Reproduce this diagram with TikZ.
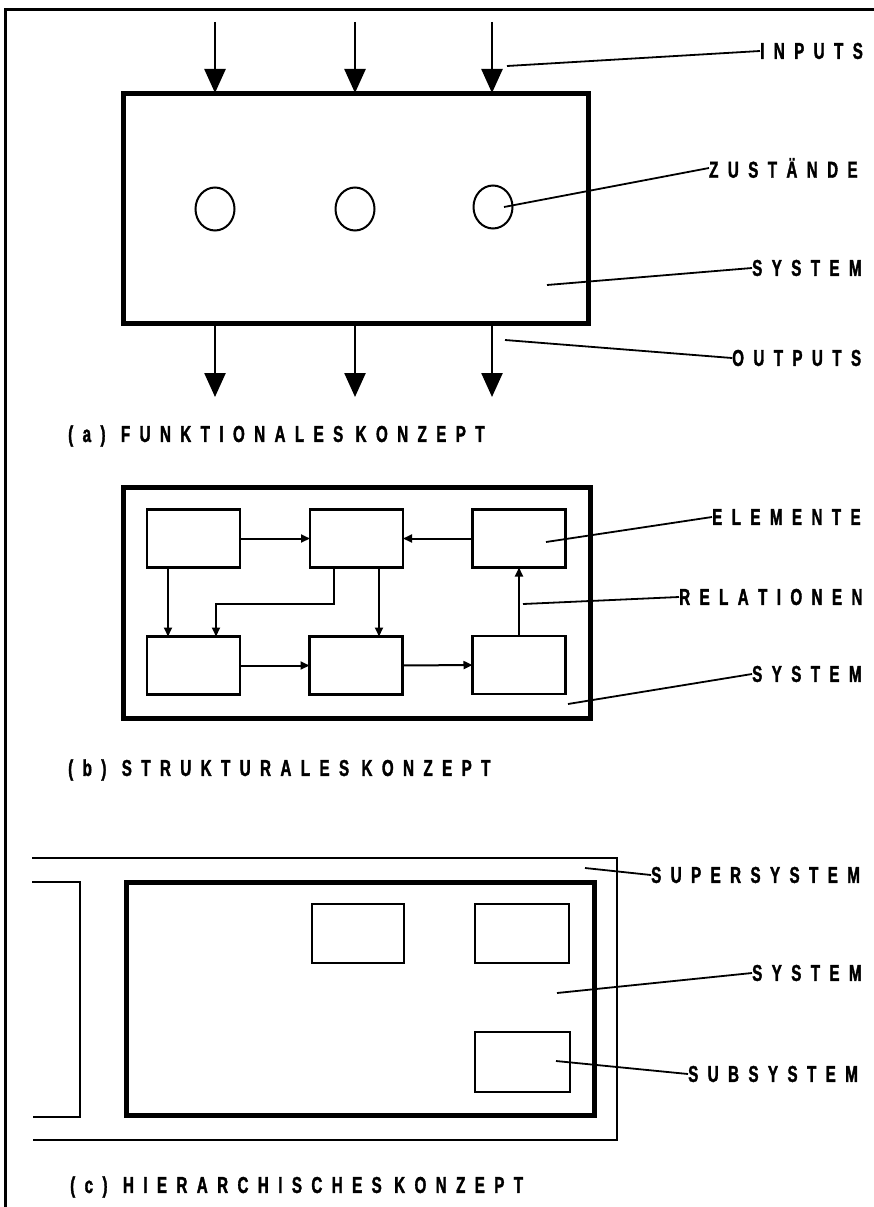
\documentclass[tikz,border=0pt]{standalone}
\usepackage{fontspec}
\newfontfamily\lf{Liberation Sans}[FakeStretch=0.66,FakeBold=1.5]
\usetikzlibrary{arrows.meta,shapes.geometric,calc}
\makeatletter
\newcommand\spc[1]{\@tfor\ch:=#1\do{\ch\kern9.4pt}}
\makeatother
\begin{document}
\begin{tikzpicture}[x=1pt,y=-1pt,
  lab/.style={anchor=west,inner sep=0pt,font=\lf\bfseries\fontsize{23pt}{23pt}\selectfont},
  frame/.style={line width=3pt},
  bigbox/.style={draw,line width=5pt,rectangle,inner sep=0pt,outer sep=0pt},
  elem/.style={draw,line width=2.8pt,rectangle,inner sep=0pt,outer sep=0pt,minimum width=93pt,minimum height=58pt},
  state/.style={draw,line width=2pt,ellipse,inner sep=0pt,minimum width=39pt,minimum height=43pt},
  bigarrow/.style={line width=2.5pt,-{Triangle[length=24pt,width=21pt]}},
  rel/.style={line width=2pt,-{Triangle[length=9pt,width=8pt]}},
  leader/.style={line width=1.8pt},
  thin/.style={line width=2.5pt}]
\useasboundingbox (0,0) rectangle (874,1207);
\fill[white] (0,0) rectangle (874,1207);
% outer frame (top and left)
\draw[frame] (5,1207) -- (5,10) -- (874,10);

% ---------- (a) functional concept ----------
\node[bigbox,minimum width=465pt,minimum height=230pt] (sysA) at (355.5,208) {};
\foreach \i/\x in {1/215,2/355,3/492}{
  \coordinate (in\i) at (\x,22);
  \draw[bigarrow] (in\i) -- (in\i |- sysA.north);
  \coordinate (out\i) at (\x,397);
  \draw[bigarrow] (out\i |- sysA.south) -- (out\i);
}
\node[state] (z1) at (215,209) {};
\node[state] (z2) at (355,209) {};
\node[state] (z3) at (493,207) {};
\node[lab] (linputs) at (760,51) {\spc{INPUTS}};
\node[lab] (lzust) at (709,168) {\spc{ZUSTÄNDE}};
\node[lab] (lsysa) at (752,268) {\spc{SYSTEM}};
\node[lab] (loutputs) at (732,358) {\spc{OUTPUTS}};
\coordinate (pin) at (507,66);
\coordinate (pzu) at (504,207);
\coordinate (psa) at (547,285);
\coordinate (pout) at (505,340);
\draw[leader] (pin) -- (linputs.west);
\draw[leader] (pzu) -- (lzust.west);
\draw[leader] (psa) -- (lsysa.west);
\draw[leader] (pout) -- (loutputs.west);
\node[lab] (capa) at (68,436) {\spc{(a)}\kern6pt\spc{FUNKTIONALES}\kern3pt\spc{KONZEPT}};

% ---------- (b) structural concept ----------
\node[bigbox,minimum width=467pt,minimum height=231pt] (sysB) at (356.5,602.5) {};
\node[elem] (b1) at (193.5,538.5) {};
\node[elem] (b2) at (356.5,538.5) {};
\node[elem] (b3) at (519,538.5) {};
\node[elem] (b4) at (193.5,665.5) {};
\node[elem] (b5) at (356,665.5) {};
\node[elem] (b6) at (519,665) {};
\draw[rel] (b1.east) -- (b2.west);
\draw[rel] (b3.west) -- (b2.east);
\draw[rel] ([xshift=-25.5pt]b1.south) -- ([xshift=-25.5pt]b4.north);
\draw[rel] ([xshift=-22.5pt]b2.south) -- ++(0,36) -| ([xshift=22.5pt]b4.north);
\draw[rel] ([xshift=22.5pt]b2.south) -- ([xshift=23pt]b5.north);
\draw[rel] (b4.east) -- (b5.west);
\draw[rel] (b5.east) -- (b6.west);
\draw[rel] (b6.north) -- (b3.south);
\node[lab] (lelem) at (712,517) {\spc{ELEMENTE}};
\node[lab] (lrel) at (679,597) {\spc{RELATIONEN}};
\node[lab] (lsysb) at (752,674) {\spc{SYSTEM}};
\coordinate (pel) at (546,542);
\coordinate (prel) at (523,604);
\coordinate (psb) at (568,704);
\draw[leader] (pel) -- (lelem.west);
\draw[leader] (prel) -- (lrel.west);
\draw[leader] (psb) -- (lsysb.west);
\node[lab] (capb) at (68,770) {\spc{(b)}\kern6pt\spc{STRUKTURALES}\kern3pt\spc{KONZEPT}};

% ---------- (c) hierarchical concept ----------
\draw[thin] (32,858) -- (617,858) -- (617,1140) -- (33,1140);
\draw[thin] (32,882) -- (80,882) -- (80,1117) -- (33,1117);
\node[bigbox,minimum width=468pt,minimum height=233pt] (sysC) at (360,998.5) {};
\node[elem,minimum width=92pt,minimum height=59pt] (s1) at (358,933.5) {};
\node[elem,minimum width=94pt,minimum height=59pt] (s2) at (522,933.5) {};
\node[elem,minimum width=95pt,minimum height=60pt] (s3) at (522.5,1062) {};
\node[lab] (lsuper) at (651,875) {\spc{SUPERSYSTEM}};
\node[lab] (lsysc) at (752,973) {\spc{SYSTEM}};
\node[lab] (lsub) at (688,1074) {\spc{SUBSYSTEM}};
\coordinate (psup) at (585,868);
\coordinate (psc) at (557,993);
\coordinate (psub) at (556,1061);
\draw[leader] (psup) -- (lsuper.west);
\draw[leader] (psc) -- (lsysc.west);
\draw[leader] (psub) -- (lsub.west);
\node[lab] (capc) at (70,1187) {\spc{(c)}\kern6pt\spc{HIERARCHISCHES}\kern3pt\spc{KONZEPT}};
\end{tikzpicture}
\end{document}
